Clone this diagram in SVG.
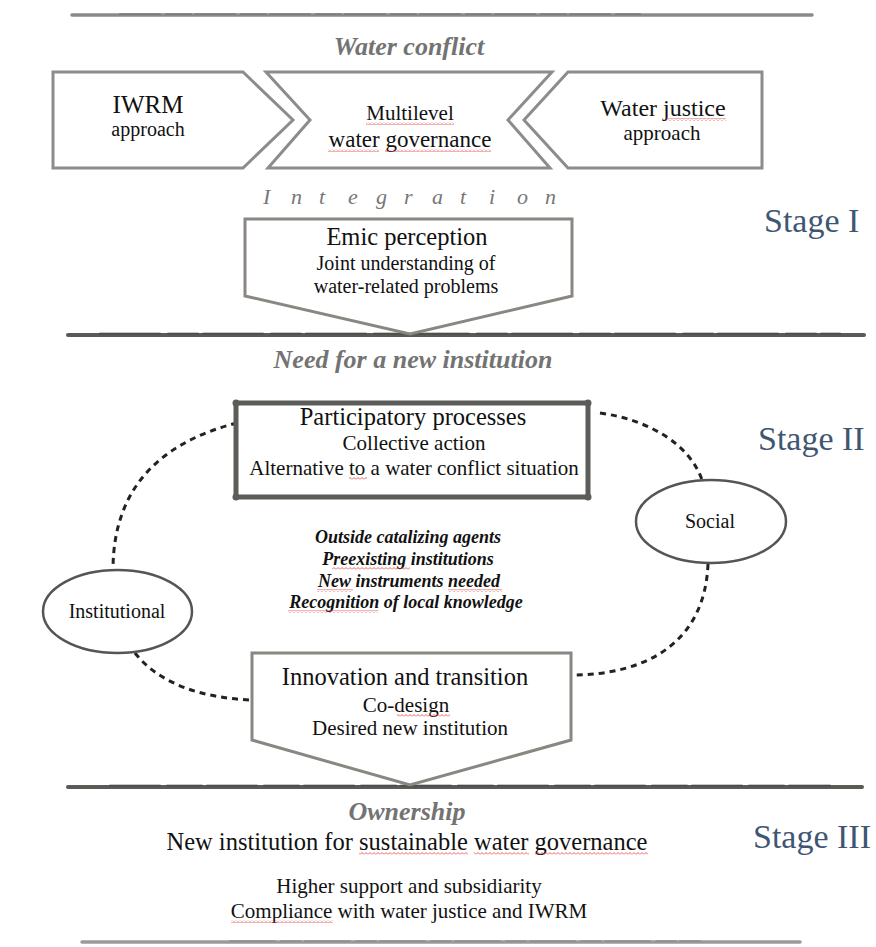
<svg xmlns="http://www.w3.org/2000/svg" width="876" height="947" viewBox="0 0 876 947">
<defs>
<style>
.t{font-family:"Liberation Serif","Times New Roman",serif;fill:#111;text-anchor:middle}
.h{font-family:"Liberation Serif","Times New Roman",serif;font-style:italic;font-weight:bold;fill:#737373;text-anchor:middle;font-size:26px}
.bi{font-family:"Liberation Serif","Times New Roman",serif;font-style:italic;font-weight:bold;fill:#111;text-anchor:middle;font-size:18px}
.stage{font-family:"Liberation Serif","Times New Roman",serif;fill:#3f5673;font-size:34px}
.chev{fill:#fff;stroke:#8c8c8c;stroke-width:3;stroke-linejoin:miter}
.pent{fill:#fff;stroke:#8a8681;stroke-width:3}
.ell{fill:#fff;stroke:#555;stroke-width:2.5}
.dot{fill:none;stroke:#222;stroke-width:3;stroke-dasharray:6 5}
.sep{fill:none;stroke-linecap:round}
</style>
<pattern id="sq" width="4" height="3" patternUnits="userSpaceOnUse">
<path d="M0,2.5 L2,0.5 L4,2.5" fill="none" stroke="#e23a3a" stroke-width="0.8"/>
</pattern>
</defs>
<rect width="876" height="947" fill="#fff"/>

<g id="separators">
<path class="sep" d="M72,15 L812,15" stroke="#8a8a8a" stroke-width="3.5"/>
<path class="sep" d="M120,14 L640,14" stroke="#777" stroke-width="2" stroke-dasharray="40 6 25 4" opacity="0.7"/>
<path class="sep" d="M68,335 L864,335" stroke="#5a5a56" stroke-width="4"/>
<path class="sep" d="M100,333.5 L840,333.5" stroke="#444" stroke-width="2" stroke-dasharray="60 8 30 5" opacity="0.6"/>
<path class="sep" d="M68,787 L862,787" stroke="#5a5a56" stroke-width="4"/>
<path class="sep" d="M110,785.5 L830,785.5" stroke="#444" stroke-width="2" stroke-dasharray="50 7 35 5" opacity="0.6"/>
<path class="sep" d="M82,942 L800,942" stroke="#9a9a9a" stroke-width="3.5"/>
<path class="sep" d="M230,941 L700,941" stroke="#888" stroke-width="2" stroke-dasharray="45 6 20 4" opacity="0.6"/>
</g>

<text class="h" x="409" y="55">Water conflict</text>

<g id="iwrm">
<path class="chev" d="M53,72 L243,72 L293,120 L243,168 L53,168 Z"/>
<text class="t" x="148" y="113" font-size="25">IWRM</text>
<text class="t" x="148" y="136" font-size="20">approach</text>
</g>
<g id="mlg">
<path class="chev" d="M266,72 L552,72 L508,120 L550,168 L268,168 L310,120 Z"/>
<text class="t" x="410" y="120" font-size="21">Multilevel</text>
<text class="t" x="410" y="147" font-size="23">water governance</text>
</g>
<g id="wj">
<path class="chev" d="M568,72 L762,72 L762,168 L568,168 L524,120 Z"/>
<text class="t" x="663" y="116" font-size="24">Water justice</text>
<text class="t" x="662" y="140" font-size="21">approach</text>
</g>

<text font-family="Liberation Serif, Times New Roman, serif" font-style="italic" font-size="22" fill="#777" y="204" x="263 291 319 348 376 404 432 460 489 517 545">Integration</text>

<text class="stage" x="764" y="232">Stage I</text>

<g id="emic">
<path class="pent" d="M245,219 L572,219 L572,296 L410,334 L245,296 Z"/>
<text class="t" x="407" y="245" font-size="24.5">Emic perception</text>
<text class="t" x="406" y="270" font-size="20">Joint understanding of</text>
<text class="t" x="406" y="293" font-size="20">water-related problems</text>
</g>

<text class="h" x="413" y="368">Need for a new institution</text>
<text class="stage" x="758" y="450">Stage II</text>

<g id="connectors">
<path class="dot" d="M237,423 C170,440 113,480 113,570"/>
<path class="dot" d="M135,653 C160,685 205,698 250,700"/>
<path class="dot" d="M600,413 C650,420 690,445 702,480"/>
<path class="dot" d="M708,564 C705,640 650,675 571,675"/>
</g>

<g id="particip">
<rect x="236" y="403" width="352" height="94" fill="#fff" stroke="#5c5c58" stroke-width="5" stroke-linejoin="round"/>
<circle cx="236" cy="403" r="3.5" fill="#5c5c58"/>
<circle cx="588" cy="403" r="3.5" fill="#5c5c58"/>
<circle cx="236" cy="497" r="3.5" fill="#5c5c58"/>
<circle cx="588" cy="497" r="3.5" fill="#5c5c58"/>
<text class="t" x="413" y="425" font-size="24.5">Participatory processes</text>
<text class="t" x="414" y="450" font-size="21">Collective action</text>
<text class="t" x="414" y="475" font-size="21">Alternative to a water conflict situation</text>
</g>

<g id="social">
<ellipse class="ell" cx="711" cy="521.5" rx="75" ry="41.5"/>
<text class="t" x="710" y="528" font-size="20">Social</text>
</g>

<g id="factors">
<text class="bi" x="408" y="543">Outside catalizing agents</text>
<text class="bi" x="408" y="565">Preexisting institutions</text>
<text class="bi" x="409" y="587">New instruments needed</text>
<text class="bi" x="406" y="608">Recognition of local knowledge</text>
</g>

<g id="institutional">
<ellipse class="ell" cx="117.5" cy="611.5" rx="74.5" ry="41.5"/>
<text class="t" x="117" y="618" font-size="20">Institutional</text>
</g>

<g id="innovation">
<path class="pent" d="M252,653 L571,653 L571,740 L410,785 L252,740 Z"/>
<text class="t" x="405" y="685" font-size="24.5">Innovation and transition</text>
<text class="t" x="406" y="712" font-size="21">Co-design</text>
<text class="t" x="410" y="735" font-size="21">Desired new institution</text>
</g>

<text class="h" x="407" y="820">Ownership</text>
<text class="stage" x="753" y="848">Stage III</text>

<g id="outcome">
<text class="t" x="407" y="850" font-size="24.5">New institution for sustainable water governance</text>
<text class="t" x="409" y="893" font-size="21">Higher support and subsidiarity</text>
<text class="t" x="409" y="918" font-size="21">Compliance with water justice and IWRM</text>
</g>

<g id="spellcheck" fill="url(#sq)">
<rect x="366" y="122" width="88" height="3"/>
<rect x="328" y="149" width="51" height="3"/>
<rect x="385" y="149" width="106" height="3"/>
<rect x="666" y="118" width="60" height="3"/>
<rect x="349" y="477" width="18" height="3"/>
<rect x="332" y="567" width="78" height="3"/>
<rect x="317" y="589" width="36" height="3"/>
<rect x="448" y="589" width="54" height="3"/>
<rect x="288" y="610" width="90" height="3"/>
<rect x="397" y="714" width="53" height="3"/>
<rect x="359" y="852" width="109" height="3"/>
<rect x="474" y="852" width="55" height="3"/>
<rect x="535" y="852" width="113" height="3"/>
<rect x="231" y="920" width="102" height="3"/>
</g>
</svg>
